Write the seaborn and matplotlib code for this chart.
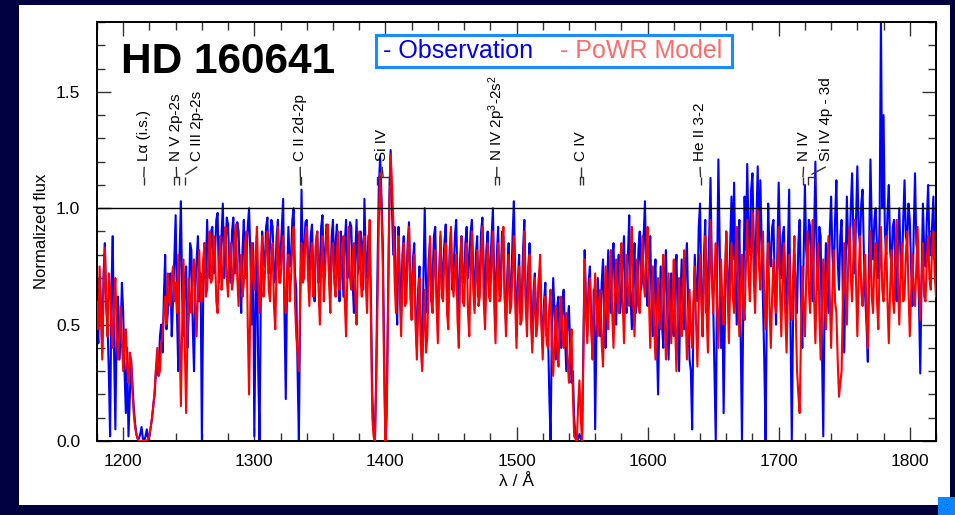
import numpy as np
import pandas as pd
import matplotlib
matplotlib.use("Agg")
import matplotlib.pyplot as plt
from matplotlib.patches import Rectangle
from matplotlib.ticker import MultipleLocator, FormatStrFormatter
import seaborn as sns

# Wavelength grid (Angstrom), 1 A sampling
wave_start, wave_stop, wave_step = 1180, 1820, 1

# Observed normalized flux (IUE), one row per 20 A
obs_flux = [
    0.55, 0.42, 0.70, 0.60, 0.38, 0.72, 0.85, 0.58, 0.50, 0.30, 0.02, 0.65, 0.88, 0.40, 0.05, 0.50, 0.62, 0.35, 0.45, 0.68,
    0.55, 0.30, 0.12, 0.40, 0.02, 0.18, 0.35, 0.25, 0.15, 0.08, 0.03, 0.01, 0.01, 0.03, 0.06, 0.01, 0.00, 0.02, 0.05, 0.01,
    0.02, 0.06, 0.10, 0.16, 0.20, 0.30, 0.35, 0.28, 0.45, 0.50, 0.38, 0.62, 0.80, 0.48, 0.55, 0.70, 0.72, 0.45, 0.60, 0.78,
    0.97, 0.55, 0.30, 0.80, 1.03, 0.62, 0.45, 0.70, 0.75, 0.40, 0.55, 0.85, 0.82, 0.50, 0.30, 0.65, 0.78, 0.88, 0.60, 0.72,
    0.00, 0.62, 0.85, 0.70, 0.95, 0.78, 0.70, 0.90, 0.92, 0.72, 0.80, 0.95, 0.98, 0.68, 0.75, 0.88, 1.02, 0.70, 0.82, 0.96,
    0.93, 0.75, 0.68, 0.90, 0.96, 0.72, 0.85, 0.94, 0.90, 0.70, 0.55, 0.82, 0.95, 0.70, 0.78, 0.92, 1.00, 0.80, 0.50, 0.85,
    0.02, 0.55, 0.88, 0.30, 0.00, 0.65, 0.90, 0.78, 0.75, 0.92, 0.96, 0.72, 0.85, 0.95, 0.92, 0.68, 0.70, 0.88, 0.95, 0.75,
    0.80, 0.92, 1.04, 0.55, 0.18, 0.70, 0.92, 0.75, 0.78, 0.95, 1.00, 0.72, 0.65, 0.30, 0.00, 0.60, 1.08, 0.75, 0.82, 0.94,
    0.95, 0.78, 0.70, 0.88, 0.93, 0.72, 0.60, 0.85, 0.90, 0.68, 0.75, 0.92, 0.97, 0.70, 0.80, 0.93, 0.92, 0.72, 0.65, 0.88,
    0.95, 0.70, 0.85, 0.93, 0.72, 0.60, 0.90, 0.78, 0.62, 0.85, 0.95, 0.70, 0.80, 0.94, 0.92, 0.68, 0.55, 0.80, 0.95, 0.72,
    0.75, 0.90, 0.85, 0.65, 1.04, 0.78, 0.70, 0.88, 0.90, 0.60, 0.20, 0.05, 0.00, 0.30, 0.75, 1.10, 1.22, 1.05, 0.85, 0.40,
    0.00, 0.15, 0.60, 1.05, 1.25, 1.00, 0.80, 0.92, 0.65, 0.50, 0.92, 0.70, 0.55, 0.80, 0.88, 0.62, 0.70, 0.85, 0.94, 0.68,
    0.62, 0.78, 0.85, 0.55, 0.40, 0.65, 0.75, 0.45, 0.32, 0.70, 1.00, 0.68, 0.55, 0.78, 0.85, 0.60, 0.70, 0.88, 0.92, 0.65,
    0.50, 0.72, 0.88, 0.65, 0.75, 0.85, 0.93, 0.70, 0.60, 0.82, 0.90, 0.65, 0.72, 0.88, 0.95, 0.68, 0.55, 0.78, 0.88, 0.70,
    0.68, 0.85, 0.92, 0.70, 0.78, 0.90, 0.95, 0.72, 0.60, 0.80, 0.88, 0.62, 0.70, 0.90, 0.96, 0.75, 0.55, 0.82, 0.90, 0.68,
    0.75, 0.88, 1.00, 0.70, 0.58, 0.80, 0.92, 0.65, 0.70, 0.90, 0.88, 0.62, 0.50, 0.72, 0.85, 0.60, 0.65, 0.88, 1.03, 0.70,
    0.45, 0.68, 0.80, 0.55, 0.60, 0.82, 0.95, 0.62, 0.52, 0.75, 0.85, 0.58, 0.42, 0.65, 0.72, 0.50, 0.55, 0.70, 0.75, 0.52,
    0.40, 0.60, 0.68, 0.45, 0.48, 0.20, 0.00, 0.50, 0.70, 0.55, 0.35, 0.58, 0.62, 0.42, 0.40, 0.60, 0.65, 0.45, 0.30, 0.52,
    0.58, 0.40, 0.25, 0.30, 0.10, 0.02, 0.00, 0.01, 0.03, 0.01, 0.00, 0.40, 0.82, 0.60, 0.45, 0.68, 0.75, 0.50, 0.38, 0.65,
    0.05, 0.48, 0.70, 0.55, 0.45, 0.68, 0.78, 0.52, 0.40, 0.65, 0.82, 0.60, 0.55, 0.78, 0.85, 0.62, 0.50, 0.72, 0.80, 0.55,
    0.62, 0.78, 0.88, 0.60, 0.55, 0.80, 0.97, 0.62, 0.48, 0.70, 0.85, 0.55, 0.60, 0.82, 0.90, 0.65, 0.70, 0.88, 1.03, 0.68,
    0.58, 0.75, 0.88, 0.60, 0.45, 0.68, 0.78, 0.45, 0.20, 0.55, 0.75, 0.50, 0.40, 0.70, 0.82, 0.55, 0.35, 0.60, 0.72, 0.48,
    0.45, 0.68, 0.80, 0.52, 0.30, 0.60, 0.78, 0.55, 0.48, 0.75, 0.85, 0.58, 0.35, 0.30, 0.05, 0.55, 0.80, 0.65, 0.60, 0.92,
    1.02, 0.65, 0.45, 0.80, 0.95, 0.55, 0.70, 0.88, 1.13, 0.75, 0.60, 0.30, 0.00, 0.70, 1.21, 0.85, 0.40, 0.62, 0.12, 0.55,
    0.90, 0.70, 0.55, 0.85, 1.05, 0.78, 1.11, 0.72, 0.50, 0.80, 0.95, 0.45, 0.00, 0.60, 1.05, 0.82, 1.19, 0.90, 0.80, 1.08,
    1.15, 0.85, 0.70, 0.95, 1.18, 0.78, 1.12, 0.85, 0.60, 0.35, 0.00, 0.62, 1.02, 0.80, 0.75, 0.92, 0.95, 0.68, 0.50, 0.82,
    1.11, 0.85, 0.70, 0.88, 0.92, 0.65, 0.55, 0.82, 1.08, 0.50, 0.00, 0.55, 0.80, 0.68, 0.55, 0.85, 0.95, 0.62, 0.40, 0.78,
    1.10, 0.82, 0.75, 0.95, 0.92, 0.70, 0.60, 0.88, 1.20, 0.80, 0.65, 0.92, 0.88, 0.40, 0.02, 0.60, 0.85, 0.70, 0.55, 0.90,
    1.05, 0.80, 0.70, 0.95, 1.12, 0.78, 0.65, 0.88, 0.95, 0.60, 0.38, 0.72, 1.05, 0.85, 0.80, 1.00, 1.15, 0.88, 0.72, 0.95,
    1.18, 0.90, 0.85, 1.02, 1.08, 0.80, 0.62, 0.50, 0.34, 0.85, 1.21, 0.92, 0.78, 0.95, 1.00, 0.82, 0.70, 0.95, 1.82, 1.00,
    1.40, 0.90, 0.80, 0.98, 1.10, 0.82, 0.75, 0.92, 0.95, 0.72, 0.60, 0.85, 1.00, 0.78, 0.70, 0.95, 1.12, 0.88, 0.85, 1.02,
    0.95, 0.75, 0.58, 0.90, 1.15, 0.85, 0.80, 0.60, 0.29, 0.70, 1.02, 0.82, 0.75, 0.95, 1.10, 0.85, 0.80, 0.92, 1.05, 0.78,
    0.90,
]

# PoWR model normalized flux, one row per 20 A
model_flux = [
    0.60, 0.48, 0.75, 0.55, 0.35, 0.62, 0.83, 0.60, 0.45, 0.72, 0.65, 0.50, 0.40, 0.60, 0.70, 0.48, 0.35, 0.45, 0.58, 0.42,
    0.30, 0.42, 0.48, 0.32, 0.25, 0.38, 0.35, 0.22, 0.12, 0.06, 0.03, 0.01, 0.00, 0.00, 0.00, 0.00, 0.00, 0.00, 0.00, 0.01,
    0.03, 0.06, 0.10, 0.15, 0.22, 0.32, 0.40, 0.28, 0.30, 0.42, 0.45, 0.55, 0.62, 0.50, 0.72, 0.60, 0.58, 0.70, 0.75, 0.60,
    0.68, 0.55, 0.80, 0.45, 0.15, 0.50, 0.78, 0.40, 0.12, 0.45, 0.70, 0.62, 0.55, 0.72, 0.78, 0.58, 0.45, 0.65, 0.82, 0.60,
    0.60, 0.78, 0.85, 0.62, 0.65, 0.80, 0.90, 0.68, 0.70, 0.88, 0.82, 0.60, 0.55, 0.75, 0.88, 0.65, 0.72, 0.85, 0.92, 0.70,
    0.62, 0.80, 0.85, 0.65, 0.70, 0.88, 0.93, 0.70, 0.58, 0.75, 0.80, 0.62, 0.68, 0.85, 0.90, 0.50, 0.20, 0.60, 0.85, 0.70,
    0.65, 0.80, 0.92, 0.68, 0.55, 0.75, 0.88, 0.62, 0.70, 0.85, 0.90, 0.65, 0.60, 0.78, 0.85, 0.58, 0.48, 0.75, 0.92, 0.68,
    0.68, 0.82, 0.88, 0.62, 0.55, 0.72, 0.80, 0.60, 0.70, 0.85, 0.92, 0.60, 0.45, 0.38, 0.30, 0.62, 0.85, 0.68, 0.70, 0.88,
    0.92, 0.70, 0.58, 0.78, 0.85, 0.62, 0.68, 0.85, 0.90, 0.65, 0.50, 0.75, 0.88, 0.60, 0.72, 0.88, 0.93, 0.68, 0.55, 0.80,
    0.85, 0.68, 0.62, 0.82, 0.90, 0.65, 0.70, 0.85, 0.88, 0.60, 0.45, 0.72, 0.92, 0.70, 0.65, 0.80, 0.85, 0.62, 0.50, 0.75,
    0.90, 0.70, 0.62, 0.80, 0.88, 0.68, 0.55, 0.78, 0.95, 0.50, 0.10, 0.02, 0.00, 0.25, 0.60, 0.95, 1.15, 1.00, 0.75, 0.30,
    0.00, 0.10, 0.55, 1.00, 1.23, 1.10, 0.95, 0.70, 0.55, 0.75, 0.88, 0.62, 0.45, 0.70, 0.85, 0.58, 0.60, 0.80, 0.92, 0.62,
    0.52, 0.70, 0.80, 0.50, 0.35, 0.58, 0.70, 0.42, 0.30, 0.48, 0.65, 0.38, 0.45, 0.72, 0.88, 0.60, 0.55, 0.75, 0.82, 0.58,
    0.42, 0.68, 0.90, 0.62, 0.60, 0.78, 0.85, 0.55, 0.48, 0.75, 0.92, 0.68, 0.62, 0.72, 0.80, 0.52, 0.40, 0.70, 0.88, 0.60,
    0.58, 0.75, 0.85, 0.55, 0.45, 0.72, 0.90, 0.65, 0.55, 0.70, 0.82, 0.58, 0.62, 0.80, 0.92, 0.60, 0.48, 0.68, 0.85, 0.62,
    0.60, 0.78, 0.90, 0.58, 0.42, 0.68, 0.85, 0.60, 0.62, 0.82, 0.92, 0.62, 0.45, 0.65, 0.80, 0.55, 0.58, 0.75, 0.88, 0.60,
    0.40, 0.62, 0.75, 0.50, 0.52, 0.72, 0.90, 0.58, 0.45, 0.68, 0.80, 0.52, 0.38, 0.55, 0.70, 0.45, 0.50, 0.68, 0.80, 0.50,
    0.35, 0.55, 0.62, 0.42, 0.40, 0.58, 0.65, 0.40, 0.28, 0.45, 0.58, 0.40, 0.32, 0.50, 0.62, 0.45, 0.40, 0.52, 0.55, 0.35,
    0.25, 0.40, 0.48, 0.20, 0.02, 0.01, 0.00, 0.15, 0.26, 0.10, 0.00, 0.35, 0.78, 0.55, 0.42, 0.62, 0.70, 0.48, 0.35, 0.58,
    0.72, 0.55, 0.45, 0.60, 0.65, 0.42, 0.32, 0.58, 0.75, 0.55, 0.48, 0.70, 0.82, 0.55, 0.40, 0.62, 0.78, 0.60, 0.55, 0.75,
    0.85, 0.60, 0.42, 0.65, 0.80, 0.62, 0.58, 0.78, 0.92, 0.60, 0.45, 0.65, 0.78, 0.58, 0.55, 0.72, 0.88, 0.68, 0.62, 0.82,
    0.92, 0.62, 0.40, 0.58, 0.75, 0.50, 0.35, 0.55, 0.70, 0.52, 0.48, 0.68, 0.80, 0.55, 0.35, 0.50, 0.72, 0.58, 0.42, 0.62,
    0.78, 0.50, 0.30, 0.55, 0.70, 0.52, 0.45, 0.68, 0.82, 0.55, 0.35, 0.50, 0.65, 0.48, 0.40, 0.60, 0.75, 0.50, 0.32, 0.58,
    0.80, 0.60, 0.45, 0.70, 0.88, 0.55, 0.38, 0.65, 0.95, 0.70, 0.55, 0.72, 0.85, 0.58, 0.40, 0.62, 0.78, 0.60, 0.50, 0.72,
    0.90, 0.65, 0.42, 0.68, 0.85, 0.62, 0.55, 0.78, 0.92, 0.65, 0.45, 0.62, 0.80, 0.58, 0.52, 0.75, 0.95, 0.72, 0.60, 0.82,
    0.98, 0.70, 0.55, 0.80, 1.00, 0.75, 0.65, 0.82, 0.90, 0.62, 0.48, 0.70, 0.85, 0.58, 0.40, 0.62, 0.78, 0.60, 0.55, 0.75,
    0.92, 0.65, 0.45, 0.70, 0.85, 0.55, 0.38, 0.62, 0.80, 0.60, 0.52, 0.72, 0.88, 0.55, 0.30, 0.20, 0.12, 0.45, 0.75, 0.58,
    0.45, 0.70, 0.90, 0.65, 0.55, 0.80, 0.95, 0.62, 0.42, 0.68, 0.85, 0.55, 0.35, 0.58, 0.78, 0.60, 0.48, 0.72, 0.88, 0.62,
    0.40, 0.65, 0.82, 0.60, 0.55, 0.35, 0.19, 0.25, 0.30, 0.62, 0.85, 0.65, 0.50, 0.75, 0.92, 0.70, 0.60, 0.80, 0.95, 0.68,
    0.45, 0.70, 0.88, 0.65, 0.58, 0.72, 0.80, 0.55, 0.40, 0.68, 0.90, 0.62, 0.55, 0.78, 0.85, 0.60, 0.48, 0.75, 0.92, 0.65,
    0.60, 0.75, 0.88, 0.60, 0.42, 0.65, 0.82, 0.62, 0.55, 0.78, 0.95, 0.68, 0.50, 0.72, 0.85, 0.60, 0.62, 0.80, 0.90, 0.65,
    0.45, 0.62, 0.80, 0.65, 0.58, 0.75, 0.92, 0.68, 0.52, 0.70, 0.85, 0.62, 0.60, 0.78, 0.88, 0.70, 0.65, 0.82, 0.90, 0.72,
    0.62,
]

# Line identifications: label, label position, marked component wavelengths
line_labels = ["L\u03b1 (i.s.)", "N V 2p-2s", "C III 2p-2s", "C II 2d-2p", "Si IV",
               "N IV 2p$^3$-2s$^2$", "C IV", "He II 3-2", "N IV", "Si IV 4p - 3d"]
label_waves = [1216.0, 1240.5, 1256.5, 1335.0, 1397.5,
               1485.0, 1549.5, 1640.0, 1719.0, 1736.0]
component_waves = [[1215.7], [1238.8, 1242.8], [1247.4], [1334.5, 1335.7],
                   [1393.8, 1402.8], [1483.3, 1486.5], [1548.2, 1550.8],
                   [1640.4], [1718.5], [1722.5, 1727.4]]

xticks = [1200, 1300, 1400, 1500, 1600, 1700, 1800]
yticks = [0.0, 0.5, 1.0, 1.5]

wave = np.arange(wave_start, wave_stop + 1, wave_step)
assert len(wave) == len(obs_flux) == len(model_flux)
df = pd.DataFrame({"wave": wave, "obs": obs_flux, "model": model_flux})

sns.set_theme(style="ticks")
plt.rcParams["font.family"] = ["Liberation Sans", "DejaVu Sans"]
plt.rcParams["mathtext.fontset"] = "custom"
plt.rcParams["mathtext.rm"] = "Liberation Sans"
plt.rcParams["mathtext.it"] = "Liberation Sans"

W, H = 955, 515
fig = plt.figure(figsize=(W / 100, H / 100), dpi=100)
fig.patch.set_facecolor("#00003f")


def fx(px):
    return px / W


def fy(py):
    return 1 - py / H


# white page inside the dark frame
fig.add_artist(Rectangle((fx(19), fy(505)), fx(931), 500 / H, transform=fig.transFigure,
                         facecolor="white", edgecolor="none", zorder=-5))
# small tab in the lower right corner
fig.add_artist(Rectangle((fx(938), 0), fx(17), 18 / H, transform=fig.transFigure,
                         facecolor="#0a84ff", edgecolor="none", zorder=6))
fig.text(fx(946), fy(507), ":", color="#00003f", fontsize=7, ha="center", va="center", zorder=7)

ax = fig.add_axes([fx(97), fy(441), fx(936 - 97), (441 - 22) / H])
ax.set_facecolor("white")

sns.lineplot(data=df, x="wave", y="obs", ax=ax, color="#0000ff", lw=1.5,
             estimator=None, sort=False, zorder=2)
sns.lineplot(data=df, x="wave", y="model", ax=ax, color="#ff0000", lw=1.5,
             estimator=None, sort=False, zorder=3)

ax.axhline(1.0, color="black", lw=1.0, zorder=4)

ax.set_xlim(1180, 1820)
ax.set_ylim(0.0, 1.8)
ax.set_xticks(xticks)
ax.set_yticks(yticks)
ax.xaxis.set_minor_locator(MultipleLocator(20))
ax.yaxis.set_minor_locator(MultipleLocator(0.1))
ax.yaxis.set_major_formatter(FormatStrFormatter("%.1f"))
ax.tick_params(which="both", direction="in", top=True, right=True, color="#333333",
               width=1.0, labelsize=12.5, labelcolor="black")
ax.tick_params(which="major", length=10)
ax.tick_params(which="minor", length=5.5)
ax.tick_params(axis="x", pad=9)
ax.tick_params(axis="y", pad=12)
for s in ax.spines.values():
    s.set_color("black")
    s.set_linewidth(1.4)

ax.set_xlabel("\u03bb / \u00c5", fontsize=12.5, color="black", labelpad=4)
ax.set_ylabel("Normalized flux", fontsize=12, color="black", labelpad=5)

# line identification marks
y_top, y_mid, y_bot = 1.178, 1.133, 1.099
mark_kw = dict(color="#333333", lw=1.0, zorder=5, solid_capstyle="butt")
for lab, lx, comps in zip(line_labels, label_waves, component_waves):
    cx = float(np.mean(comps))
    if abs(cx - lx) > 3:
        # slanted connector from label to the marked position
        ax.plot([lx, cx], [y_top, y_mid + 0.012], **mark_kw)
    else:
        ax.plot([lx, cx], [y_top, y_mid], **mark_kw)
    if len(comps) == 1:
        ax.plot([comps[0], comps[0]], [y_mid, y_bot], **mark_kw)
    else:
        ax.plot([comps[0], comps[0], comps[-1], comps[-1]],
                [y_bot, y_mid, y_mid, y_bot], **mark_kw)
    ax.text(lx, 1.205, lab, rotation=90, ha="center", va="bottom", fontsize=11,
            color="black", zorder=5)

# star name
fig.text(fx(121), fy(73), "HD 160641", fontsize=30.5, fontweight="bold",
         color="black", ha="left", va="baseline", zorder=6)

# legend box
fig.add_artist(Rectangle((fx(376), fy(67)), fx(732 - 376), 32 / H, transform=fig.transFigure,
                         facecolor="white", edgecolor="#1a8cff", lw=2.2, zorder=6))
fig.text(fx(383), fy(58), "- Observation", fontsize=18, color="#0000ee",
         ha="left", va="baseline", zorder=7)
fig.text(fx(560), fy(58), "- PoWR Model", fontsize=18, color="#ff6b6b",
         ha="left", va="baseline", zorder=7)

fig.savefig("out.png", dpi=100, facecolor=fig.get_facecolor())
